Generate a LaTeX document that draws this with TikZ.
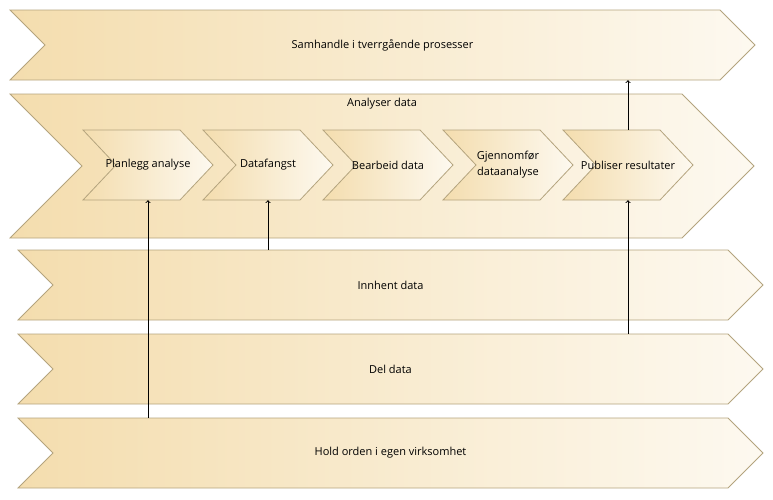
\documentclass[tikz,border=0pt]{standalone}
\usepackage{fontspec}
\setmainfont{Open Sans}
\usepackage{tikz}
\usetikzlibrary{arrows}

\definecolor{tanL}{HTML}{F4DDAE}
\definecolor{tanR}{HTML}{FDF9F0}
\definecolor{bord}{HTML}{B4A47E}

% chevron: name, cx, cy, width, height, depth, text
\newcommand{\chevron}[7]{%
  \path[chevfill] ({#2-#4/2},{#3-#5/2}) -- ({#2+#4/2-#6},{#3-#5/2}) -- ({#2+#4/2},#3)
    -- ({#2+#4/2-#6},{#3+#5/2}) -- ({#2-#4/2},{#3+#5/2}) -- ({#2-#4/2+#6},#3) -- cycle;
  \node[minimum width=#4pt, minimum height=#5pt] (#1) at (#2,#3) {#7};
}

\begin{document}
\begin{tikzpicture}[x=1pt, y=-1pt]

\tikzstyle{every node} = [inner sep=0pt, align=center, font=\fontsize{11}{16}\selectfont]
\tikzstyle{chevfill} = [draw=bord, line width=0.8pt, left color=tanL, right color=tanR]

\useasboundingbox (0,0) rectangle (773,499);

% main bands
\chevron{samh}{382.5}{45}{745}{70}{35}{Samhandle i tverrgående prosesser}
\chevron{analyser}{382}{166}{744}{144}{72}{}
\node (analyserlbl) at (382,104) {Analyser data};
\chevron{innhent}{390.5}{285}{745}{70}{35}{Innhent data}
\chevron{del}{390.5}{369}{745}{70}{35}{Del data}
\chevron{hold}{390.5}{453}{745}{70}{35}{Hold orden i egen virksomhet}

% steps inside Analyser data
\chevron{plan}{148}{165}{130}{70}{33}{Planlegg analyse}
\chevron{fangst}{268}{165}{130}{70}{33}{Datafangst}
\chevron{bearb}{388}{165}{130}{70}{33}{Bearbeid data}
\chevron{gjenn}{508}{165}{130}{70}{33}{Gjennomfør\\dataanalyse}
\chevron{publ}{628}{165}{130}{70}{33}{Publiser resultater}

\draw[->, line width=0.9pt] (hold.north -| plan.south) -- (plan.south);
\draw[->, line width=0.9pt] (innhent.north -| fangst.south) -- (fangst.south);
\draw[->, line width=0.9pt] (del.north -| publ.south) -- (publ.south);
\draw[->, line width=0.9pt] (publ.north) -- (samh.south -| publ.north);
\end{tikzpicture}
\end{document}
